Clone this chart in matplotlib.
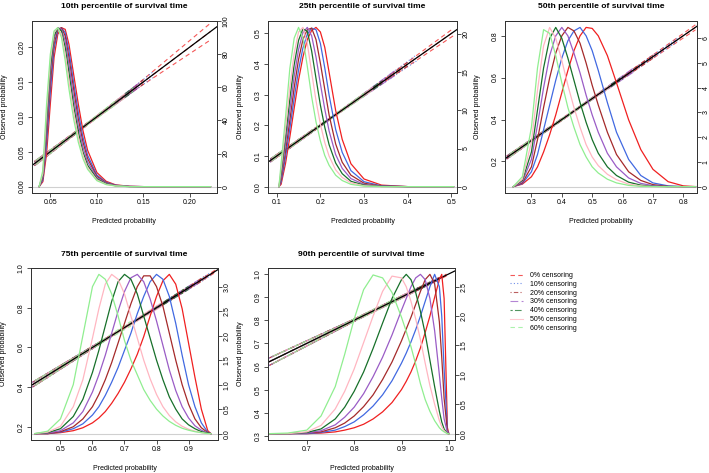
import matplotlib
matplotlib.use('Agg')
import matplotlib.pyplot as plt
from matplotlib.lines import Line2D

plt.rcParams['font.family'] = ['Liberation Sans', 'DejaVu Sans']

# ---------------------------------------------------------------- labels
TITLES = ['10th percentile of survival time', '25th percentile of survival time',
          '50th percentile of survival time', '75th percentile of survival time',
          '90th percentile of survival time']
CENSORING = ['0% censoring', '10% censoring', '20% censoring', '30% censoring',
             '40% censoring', '50% censoring', '60% censoring']

# ---------------------------------------------------------------- densities of predicted probability (right axis)
P10_X = [0.038, 0.042, 0.046, 0.050, 0.054, 0.058, 0.062, 0.066, 0.070, 0.075,
         0.080, 0.085, 0.090, 0.100, 0.110, 0.120, 0.135, 0.150, 0.222]
P10_DENS = [
    [0, 3, 20, 50, 78, 92, 96, 95, 86, 68, 50, 34, 22, 8.5, 3.2, 1.1, 0.2, 0, 0],
    [0, 4, 26, 57, 83, 94, 96, 93, 82, 63, 45, 30, 19, 7, 2.6, 0.9, 0.1, 0, 0],
    [0, 5, 31, 63, 86, 95, 96, 91, 78, 59, 41, 27, 17, 6.2, 2.3, 0.7, 0.1, 0, 0],
    [0, 6, 36, 68, 89, 96, 95, 88, 74, 54, 37, 24, 15, 5.4, 2, 0.6, 0.1, 0, 0],
    [0, 7, 41, 72, 91, 96, 94, 84, 69, 49, 33, 21, 13, 4.7, 1.7, 0.5, 0, 0, 0],
    [0, 8, 45, 76, 93, 96, 92, 80, 64, 45, 30, 19, 11.5, 4.1, 1.4, 0.45, 0, 0, 0],
    [0, 10, 50, 80, 94, 96, 90, 76, 59, 41, 27, 17, 10.5, 3.6, 1.2, 0.4, 0, 0, 0],
]

P25_X = [0.105, 0.110, 0.120, 0.130, 0.140, 0.150, 0.160, 0.170, 0.180, 0.190,
         0.200, 0.210, 0.220, 0.235, 0.250, 0.270, 0.300, 0.340, 0.400, 0.505]
P25_DENS = [
    [0, 0.3, 3, 6.5, 10.3, 14, 17, 19.3, 20.5, 20.9, 20.3, 18.3, 15, 10, 6.2, 3, 1, 0.2, 0, 0],
    [0, 0.6, 3.8, 7.6, 11.6, 15.3, 18.2, 20, 20.8, 20.6, 18.8, 15.6, 12, 7.5, 4.5, 2.1, 0.65, 0.1, 0, 0],
    [0, 0.9, 4.6, 8.7, 13, 16.7, 19.3, 20.6, 20.8, 19.3, 16.2, 12.8, 9.4, 5.6, 3.2, 1.5, 0.45, 0.06, 0, 0],
    [0, 1.3, 5.5, 10, 14.5, 18, 20.2, 20.9, 19.8, 17, 13.5, 10.2, 7.3, 4.2, 2.4, 1.05, 0.3, 0.04, 0, 0],
    [0, 1.8, 6.5, 11.5, 16, 19.2, 20.7, 20.4, 17.8, 14.2, 10.7, 7.8, 5.5, 3.1, 1.7, 0.7, 0.2, 0.02, 0, 0],
    [0, 2.3, 7.5, 13, 17.5, 20.3, 20.9, 18.8, 15, 11.3, 8.2, 5.8, 4, 2.2, 1.2, 0.5, 0.12, 0, 0, 0],
    [0, 3, 9, 15.5, 19.5, 20.9, 19.5, 15.8, 11.8, 8.5, 6, 4.1, 2.8, 1.5, 0.8, 0.3, 0.06, 0, 0, 0],
]

P50_X = [0.24, 0.27, 0.30, 0.32, 0.34, 0.36, 0.38, 0.40, 0.42, 0.44, 0.46,
         0.48, 0.50, 0.52, 0.55, 0.58, 0.62, 0.66, 0.70, 0.75, 0.80, 0.84]
P50_DENS = [
    [0, 0.1, 0.4, 0.8, 1.4, 2.1, 2.9, 3.8, 4.7, 5.5, 6.1, 6.44, 6.4, 6.1, 5.3, 4.2, 2.7, 1.5, 0.7, 0.2, 0.03, 0],
    [0, 0.12, 0.6, 1.3, 2.3, 3.3, 4.3, 5.2, 5.9, 6.3, 6.44, 6.1, 5.5, 4.7, 3.4, 2.2, 1.1, 0.45, 0.15, 0.03, 0, 0],
    [0, 0.15, 0.8, 1.9, 3.2, 4.4, 5.4, 6.1, 6.44, 6.3, 5.8, 5.0, 4.1, 3.3, 2.2, 1.3, 0.6, 0.25, 0.08, 0.01, 0, 0],
    [0, 0.2, 1.1, 2.5, 4.0, 5.3, 6.1, 6.44, 6.1, 5.4, 4.6, 3.7, 2.9, 2.2, 1.35, 0.8, 0.35, 0.13, 0.04, 0, 0, 0],
    [0, 0.25, 1.4, 3.1, 4.8, 6.0, 6.44, 6.0, 5.2, 4.3, 3.4, 2.6, 1.9, 1.35, 0.8, 0.45, 0.18, 0.06, 0.01, 0, 0, 0],
    [0, 0.3, 1.8, 3.9, 5.7, 6.44, 6.0, 5.1, 4.1, 3.2, 2.4, 1.7, 1.2, 0.85, 0.5, 0.28, 0.1, 0.03, 0, 0, 0, 0],
    [0, 0.4, 2.4, 4.8, 6.35, 6.2, 5.3, 4.2, 3.2, 2.4, 1.7, 1.2, 0.8, 0.55, 0.3, 0.15, 0.05, 0.01, 0, 0, 0, 0],
]

P75_X = [0.42, 0.46, 0.50, 0.54, 0.57, 0.60, 0.62, 0.64, 0.66, 0.68, 0.70, 0.72, 0.74,
         0.76, 0.78, 0.80, 0.82, 0.84, 0.86, 0.88, 0.90, 0.92, 0.94, 0.96, 0.97]
P75_DENS = [
    [0, 0, 0.02, 0.06, 0.12, 0.22, 0.32, 0.45, 0.62, 0.82, 1.05, 1.32, 1.62, 1.98, 2.4, 2.8, 3.12, 3.25, 3.05, 2.55, 1.85, 1.15, 0.5, 0.06, 0],
    [0, 0, 0.03, 0.1, 0.2, 0.38, 0.55, 0.78, 1.05, 1.35, 1.7, 2.05, 2.45, 2.8, 3.1, 3.25, 3.15, 2.8, 2.25, 1.6, 1.0, 0.55, 0.22, 0.03, 0],
    [0, 0, 0.04, 0.14, 0.3, 0.55, 0.8, 1.1, 1.45, 1.85, 2.25, 2.65, 3.0, 3.22, 3.22, 3.0, 2.6, 2.05, 1.5, 1.0, 0.6, 0.3, 0.12, 0.02, 0],
    [0, 0.01, 0.06, 0.22, 0.45, 0.85, 1.2, 1.6, 2.05, 2.5, 2.9, 3.18, 3.25, 3.1, 2.75, 2.3, 1.8, 1.3, 0.88, 0.55, 0.32, 0.16, 0.07, 0.01, 0],
    [0, 0.02, 0.1, 0.35, 0.7, 1.25, 1.7, 2.2, 2.7, 3.1, 3.25, 3.15, 2.85, 2.4, 1.95, 1.5, 1.1, 0.75, 0.5, 0.3, 0.18, 0.1, 0.04, 0.01, 0],
    [0, 0.03, 0.15, 0.55, 1.1, 1.95, 2.55, 3.05, 3.25, 3.15, 2.85, 2.4, 1.95, 1.5, 1.12, 0.8, 0.55, 0.37, 0.24, 0.15, 0.09, 0.05, 0.02, 0, 0],
    [0, 0.05, 0.3, 1.0, 2.0, 3.0, 3.25, 3.15, 2.85, 2.4, 1.9, 1.5, 1.2, 0.9, 0.68, 0.5, 0.36, 0.25, 0.17, 0.11, 0.07, 0.04, 0.02, 0, 0],
]

P90_X = [0.62, 0.66, 0.70, 0.73, 0.76, 0.78, 0.80, 0.82, 0.84, 0.86, 0.88, 0.90,
         0.91, 0.92, 0.93, 0.94, 0.95, 0.96, 0.97, 0.98, 0.985, 0.99, 0.997, 1.0]
P90_DENS = [
    [0, 0, 0, 0.01, 0.03, 0.06, 0.1, 0.16, 0.25, 0.37, 0.53, 0.75, 0.89, 1.05, 1.24, 1.46, 1.72, 2.0, 2.32, 2.62, 2.71, 2.3, 0.1, 0],
    [0, 0, 0, 0.02, 0.06, 0.12, 0.2, 0.32, 0.47, 0.66, 0.9, 1.2, 1.37, 1.56, 1.77, 2.0, 2.25, 2.5, 2.71, 2.5, 2.0, 1.1, 0.06, 0],
    [0, 0, 0.01, 0.03, 0.1, 0.18, 0.3, 0.46, 0.66, 0.92, 1.22, 1.58, 1.78, 1.98, 2.2, 2.42, 2.62, 2.71, 2.55, 1.9, 1.3, 0.6, 0.04, 0],
    [0, 0, 0.01, 0.05, 0.15, 0.28, 0.45, 0.68, 0.97, 1.3, 1.68, 2.1, 2.3, 2.5, 2.65, 2.71, 2.62, 2.3, 1.75, 1.0, 0.6, 0.25, 0.02, 0],
    [0, 0, 0.02, 0.08, 0.25, 0.45, 0.72, 1.05, 1.45, 1.88, 2.3, 2.62, 2.71, 2.62, 2.4, 2.08, 1.7, 1.25, 0.8, 0.38, 0.2, 0.08, 0, 0],
    [0, 0, 0.03, 0.14, 0.42, 0.72, 1.1, 1.55, 2.0, 2.42, 2.68, 2.65, 2.5, 2.25, 1.95, 1.6, 1.2, 0.82, 0.5, 0.22, 0.12, 0.05, 0, 0],
    [0, 0.01, 0.06, 0.3, 0.8, 1.35, 1.95, 2.45, 2.7, 2.65, 2.4, 1.98, 1.74, 1.48, 1.18, 0.85, 0.58, 0.38, 0.22, 0.1, 0.06, 0.03, 0, 0],
]

# ---------------------------------------------------------------- calibration lines (left axis)
# predicted range of each curve, and half width of its confidence band
# at the start, in the middle and at the end of that range
CAL_START = [
    [0.033, 0.033, 0.033, 0.034, 0.034, 0.034, 0.035],
    [0.085, 0.085, 0.086, 0.086, 0.087, 0.088, 0.090],
    [0.218, 0.218, 0.220, 0.222, 0.225, 0.228, 0.230],
    [0.412, 0.412, 0.414, 0.416, 0.418, 0.420, 0.422],
    [0.620, 0.620, 0.622, 0.624, 0.626, 0.628, 0.630],
]
CAL_END = [
    [0.222, 0.160, 0.150, 0.145, 0.140, 0.130, 0.120],
    [0.505, 0.420, 0.400, 0.370, 0.340, 0.320, 0.300],
    [0.840, 0.780, 0.700, 0.640, 0.600, 0.560, 0.500],
    [0.985, 0.970, 0.950, 0.930, 0.900, 0.820, 0.720],
    [0.995, 0.990, 0.980, 0.970, 0.960, 0.930, 0.900],
]
BAND_START = [
    [0.003, 0.003, 0.003, 0.003, 0.003, 0.003, 0.003],
    [0.005, 0.005, 0.005, 0.005, 0.005, 0.005, 0.005],
    [0.007, 0.007, 0.007, 0.007, 0.007, 0.007, 0.007],
    [0.012, 0.012, 0.012, 0.012, 0.012, 0.012, 0.012],
    [0.016, 0.016, 0.016, 0.016, 0.016, 0.016, 0.016],
]
BAND_MID = [
    [0.001, 0.001, 0.001, 0.001, 0.001, 0.001, 0.001],
    [0.002, 0.002, 0.002, 0.002, 0.002, 0.002, 0.002],
    [0.003, 0.003, 0.003, 0.003, 0.003, 0.003, 0.003],
    [0.003, 0.003, 0.003, 0.003, 0.003, 0.003, 0.003],
    [0.005, 0.005, 0.005, 0.005, 0.005, 0.005, 0.005],
]
BAND_END = [
    [0.012, 0.004, 0.003, 0.003, 0.003, 0.003, 0.003],
    [0.012, 0.010, 0.006, 0.008, 0.005, 0.005, 0.005],
    [0.012, 0.008, 0.008, 0.010, 0.006, 0.006, 0.006],
    [0.006, 0.008, 0.008, 0.008, 0.008, 0.010, 0.012],
    [0.004, 0.004, 0.005, 0.005, 0.005, 0.006, 0.006],
]

# ---------------------------------------------------------------- axes
X_TICKS = [[0.05, 0.10, 0.15, 0.20], [0.1, 0.2, 0.3, 0.4, 0.5],
           [0.3, 0.4, 0.5, 0.6, 0.7, 0.8], [0.5, 0.6, 0.7, 0.8, 0.9], [0.7, 0.8, 0.9, 1.0]]
LEFT_TICKS = [[0.00, 0.05, 0.10, 0.15, 0.20], [0.0, 0.1, 0.2, 0.3, 0.4, 0.5],
              [0.2, 0.4, 0.6, 0.8], [0.2, 0.4, 0.6, 0.8, 1.0],
              [0.3, 0.4, 0.5, 0.6, 0.7, 0.8, 0.9, 1.0]]
RIGHT_TICKS = [[0, 20, 40, 60, 80, 100], [0, 5, 10, 15, 20], [0, 1, 2, 3, 4, 5, 6],
               [0.0, 0.5, 1.0, 1.5, 2.0, 2.5, 3.0], [0.0, 0.5, 1.0, 1.5, 2.0, 2.5]]
X_FMT = ['%.2f', '%.1f', '%.1f', '%.1f', '%.1f']
LEFT_FMT = ['%.2f', '%.1f', '%.1f', '%.1f', '%.1f']
RIGHT_FMT = ['%d', '%d', '%d', '%.1f', '%.1f']

XLIMS = [(0.030, 0.229), (0.080, 0.513), (0.213, 0.845), (0.408, 0.992), (0.618, 1.013)]
LEFT_YLIMS = [(-0.0091, 0.2371), (-0.0208, 0.5408), (0.0496, 0.870), (0.134, 0.999), (0.2825, 1.0255)]
RIGHT_YLIMS = [(-3.85, 100.05), (-0.836, 21.74), (-0.258, 6.70), (-0.13, 3.38), (-0.108, 2.818)]

# pixel boxes: left, right, top, bottom
BOXES = [(31.7, 217, 21, 193), (268, 457, 21, 193), (505, 697, 21, 193),
         (31, 218, 268, 440), (268, 455, 268, 440)]

DENS_COLORS = ['#f02020', '#4169e1', '#a52a2a', '#9a5cc6', '#17702a', '#ffb6c1', '#90ee90']
CAL_STYLES = [(0, (4, 3)), (0, (1, 2)), (0, (1, 2, 4, 2)), (0, (7, 3)),
              (0, (2, 2, 6, 2)), '-', (0, (4, 3))]
FS = 5.0

W, H = 709, 473
fig = plt.figure(figsize=(W / 100, H / 100), dpi=100)

panels = [(P10_X, P10_DENS), (P25_X, P25_DENS), (P50_X, P50_DENS),
          (P75_X, P75_DENS), (P90_X, P90_DENS)]

for k, (xs, dens) in enumerate(panels):
    l, r, t, b = BOXES[k]
    ax = fig.add_axes([l / W, 1 - b / H, (r - l) / W, (b - t) / H])
    ax.set_xlim(XLIMS[k])
    ax.set_ylim(LEFT_YLIMS[k])

    # calibration curves with confidence bands
    for j in range(7):
        x0, x1 = CAL_START[k][j], CAL_END[k][j]
        xm = (x0 + x1) / 2
        w0, wm, w1 = BAND_START[k][j], BAND_MID[k][j], BAND_END[k][j]
        kw = dict(color=DENS_COLORS[j], ls=CAL_STYLES[j], lw=0.8, alpha=0.75)
        ax.plot([x0, x1], [x0, x1], **kw)
        ax.plot([x0, xm, x1], [x0 + w0, xm + wm, x1 + w1], **kw)
        ax.plot([x0, xm, x1], [x0 - w0, xm - wm, x1 - w1], **kw)
    ax.axline((0, 0), slope=1, color='black', lw=0.9, zorder=3)

    ax.set_xticks(X_TICKS[k])
    ax.set_xticklabels([X_FMT[k] % v for v in X_TICKS[k]])
    ax.set_yticks(LEFT_TICKS[k])
    ax.set_yticklabels([LEFT_FMT[k] % v for v in LEFT_TICKS[k]], rotation=90, va='center')
    ax.tick_params(direction='out', length=2.6, width=0.6, labelsize=FS, pad=2.0, color='#333333')
    ax.set_title(TITLES[k], fontsize=6.1, fontweight='bold', pad=9)
    ax.set_xlabel('Predicted probability', fontsize=FS)
    ax.set_ylabel('Observed probability', fontsize=FS)
    ax.xaxis.set_label_coords(0.5, -25 / (b - t))
    ax.yaxis.set_label_coords(-24 / (r - l), 0.5)

    # density of predictions on the right axis
    ax2 = ax.twinx()
    ax2.set_ylim(RIGHT_YLIMS[k])
    ax2.axhline(0, color='#d0d0d0', lw=0.8)
    for j in range(7):
        ax2.plot(xs, dens[j], color=DENS_COLORS[j], lw=0.9)
    ax2.set_yticks(RIGHT_TICKS[k])
    ax2.set_yticklabels([RIGHT_FMT[k] % v for v in RIGHT_TICKS[k]], rotation=90, va='center')
    ax2.tick_params(direction='out', length=2.6, width=0.6, labelsize=FS, pad=1.5, color='#333333')

    for a in (ax, ax2):
        for s in a.spines.values():
            s.set_linewidth(0.7)
            s.set_color('#333333')

handles = [Line2D([], [], color=DENS_COLORS[j], ls=CAL_STYLES[j], lw=0.8, alpha=0.75)
           for j in range(7)]
fig.legend(handles, CENSORING, loc='upper left', bbox_to_anchor=(510 / W, 1 - 272 / H),
           frameon=False, fontsize=FS, handlelength=1.9, handletextpad=1.0,
           labelspacing=0.26, borderaxespad=0, borderpad=0)

fig.savefig('out.png', dpi=100)
